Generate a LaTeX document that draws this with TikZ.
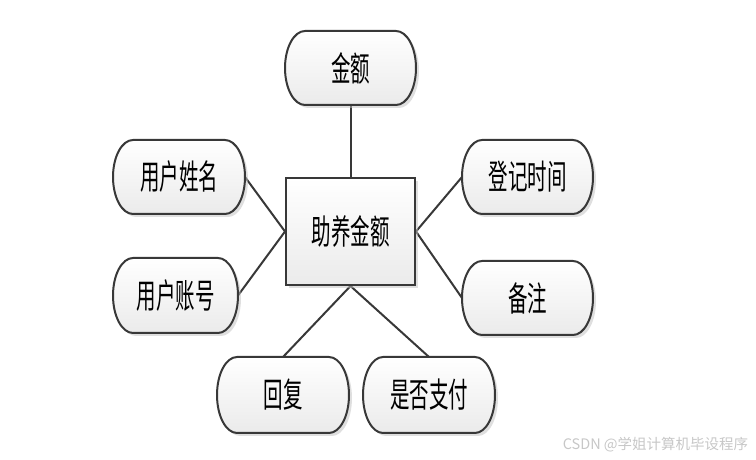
\documentclass[tikz,border=0pt]{standalone}
\usepackage{fontspec}
\usepackage{graphicx}
\newfontfamily\cjk{Noto Sans CJK SC}
\usepackage{tikz}
\usetikzlibrary{calc,shadows,backgrounds,positioning}

\newcommand\tallcn[1]{\scalebox{1}[1.75]{#1}}

\begin{document}
\begin{tikzpicture}[x=1pt,y=1pt,line width=2pt,
  entity/.style={draw=black!78,top color=white,bottom color=black!8,
    minimum width=129,minimum height=107,inner sep=0pt,
    drop shadow={shadow xshift=3pt,shadow yshift=-3pt,fill=black!25},
    font=\cjk\fontsize{19.5}{19.5}\selectfont},
  attr/.style={minimum width=129,minimum height=72,inner sep=0pt,
    font=\cjk\fontsize{19.5}{19.5}\selectfont},
  outline/.style={draw=black!78,line width=2pt,top color=white,bottom color=black!8,
    drop shadow={shadow xshift=3pt,shadow yshift=-3pt,fill=black!25}},
  link/.style={draw=black!78,line width=2pt}]
  \useasboundingbox (0,0) rectangle (756,460);
  \node[entity] (zhuyang) at (350.5,228.5) {\tallcn{助养金额}};
  \node[attr] (jine) at (350.5,392) {\tallcn{金额}};
  \node[attr,minimum width=130] (xingming) at (179,283) {\tallcn{用户姓名}};
  \node[attr,minimum width=123,minimum height=73] (zhanghao) at (175.5,164.5) {\tallcn{用户账号}};
  \node[attr] (shijian) at (527.5,283) {\tallcn{登记时间}};
  \node[attr] (beizhu) at (527.5,162) {\tallcn{备注}};
  \node[attr,minimum width=130,minimum height=74] (huifu) at (283,65) {\tallcn{回复}};
  \node[attr,minimum width=130,minimum height=74] (zhifu) at (429,65) {\tallcn{是否支付}};
  \node[text=black!22,font=\cjk\fontsize{14.5}{14.5}\selectfont] (csdn) at (655.5,15) {CSDN @学姐计算机毕设程序};
  \begin{pgfonlayer}{background}
  \draw[link] (zhuyang.north) -- (jine.south);
  \draw[link] (zhuyang.west) -- (xingming.east);
  \draw[link] (zhuyang.west) -- (zhanghao.east);
  \draw[link] (zhuyang.east) -- (shijian.west);
  \draw[link] (zhuyang.east) -- (beizhu.west);
  \draw[link] (zhuyang.south) -- (huifu.north);
  \draw[link] (zhuyang.south) -- (zhifu.north);
  \foreach \a in {jine,xingming,zhanghao,shijian,beizhu,huifu,zhifu}
    \path[outline] let \p1=(\a.north west), \p2=(\a.south east), \n1={(\y1-\y2)/2} in
      (\x1+20pt,\y1) -- (\x2-20pt,\y1) arc[start angle=90,end angle=-90,x radius=20pt,y radius=\n1]
      -- (\x1+20pt,\y2) arc[start angle=270,end angle=90,x radius=20pt,y radius=\n1] -- cycle;
  \end{pgfonlayer}
\end{tikzpicture}
\end{document}
